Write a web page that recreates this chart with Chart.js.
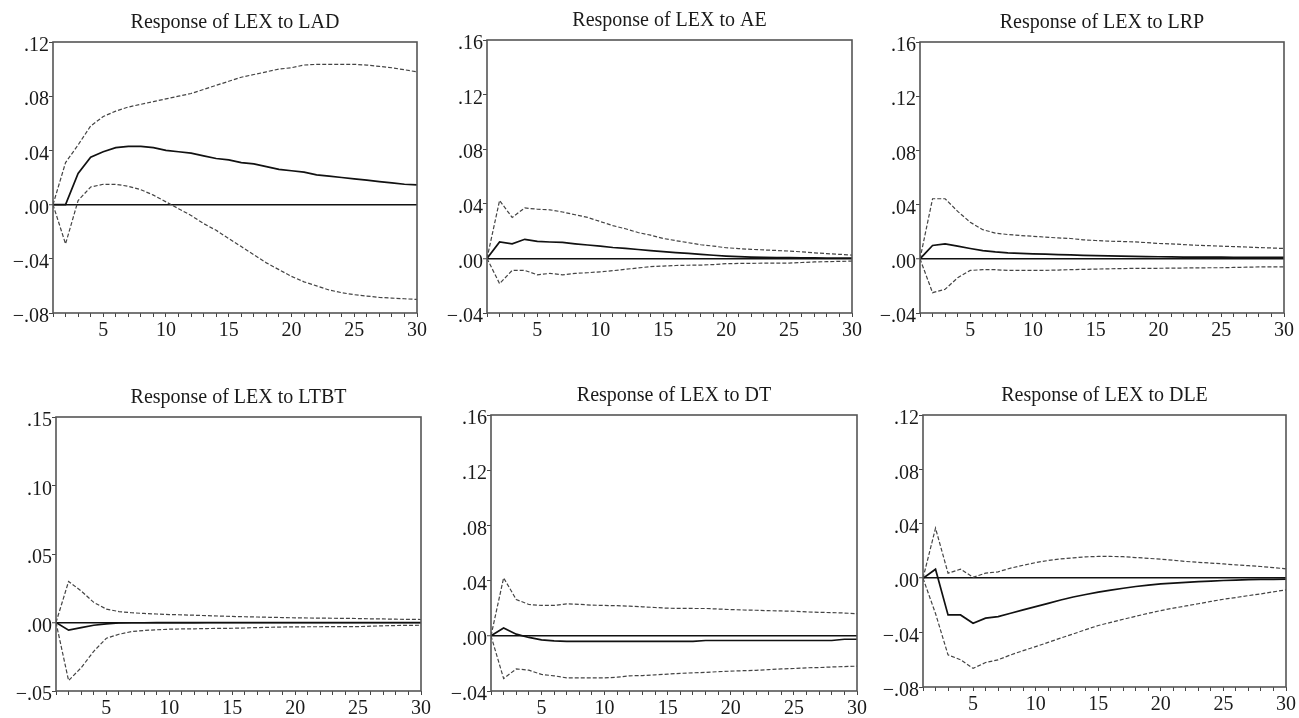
<!DOCTYPE html>
<html>
<head>
<meta charset="utf-8">
<title>Impulse responses of LEX</title>
<script src="https://cdn.jsdelivr.net/npm/chart.js@4.4.1/dist/chart.umd.min.js"></script>
<style>
  html, body { margin: 0; padding: 0; background: #fff; }
  #wrap { position: relative; width: 1299px; height: 718px; overflow: hidden; }
  .panel { position: absolute; }
</style>
</head>
<body>
<div id="wrap"></div>
<script>
// periods 1..30
const periods = [1, 2, 3, 4, 5, 6, 7, 8, 9, 10, 11, 12, 13, 14, 15, 16, 17, 18, 19, 20, 21, 22, 23, 24, 25, 26, 27, 28, 29, 30];

// Response of LEX to LAD
const ladResp  = [0, 0, 0.023, 0.035, 0.039, 0.042, 0.043, 0.043, 0.042, 0.040, 0.039, 0.038, 0.036, 0.034, 0.033, 0.031, 0.030, 0.028, 0.026, 0.025, 0.024, 0.022, 0.021, 0.020, 0.019, 0.018, 0.017, 0.016, 0.015, 0.0145];
const ladUpper = [0, 0.031, 0.044, 0.058, 0.065, 0.069, 0.072, 0.074, 0.076, 0.078, 0.080, 0.082, 0.085, 0.088, 0.091, 0.094, 0.096, 0.098, 0.100, 0.101, 0.103, 0.1035, 0.1035, 0.1035, 0.1035, 0.103, 0.102, 0.101, 0.0995, 0.098];
const ladLower = [0, -0.029, 0.003, 0.013, 0.015, 0.015, 0.0135, 0.011, 0.007, 0.002, -0.003, -0.008, -0.014, -0.019, -0.025, -0.031, -0.037, -0.043, -0.048, -0.053, -0.057, -0.060, -0.063, -0.065, -0.0665, -0.0675, -0.0685, -0.069, -0.0695, -0.070];

// Response of LEX to AE
const aeResp  = [0, 0.012, 0.0107, 0.014, 0.0125, 0.012, 0.0117, 0.0107, 0.0098, 0.009, 0.008, 0.0073, 0.0065, 0.0057, 0.0049, 0.0043, 0.0037, 0.003, 0.0023, 0.0017, 0.0013, 0.001, 0.0008, 0.0006, 0.0005, 0.0004, 0.0004, 0.0003, 0.0003, 0.0003];
const aeUpper = [0, 0.0424, 0.030, 0.037, 0.036, 0.0356, 0.034, 0.032, 0.030, 0.027, 0.024, 0.0217, 0.019, 0.017, 0.0146, 0.013, 0.0115, 0.010, 0.009, 0.0078, 0.0072, 0.0066, 0.0062, 0.0058, 0.0054, 0.0048, 0.0041, 0.0035, 0.003, 0.0024];
const aeLower = [0, -0.0185, -0.0088, -0.0088, -0.012, -0.011, -0.012, -0.011, -0.0105, -0.0098, -0.009, -0.008, -0.007, -0.006, -0.0056, -0.0052, -0.005, -0.0049, -0.0045, -0.0039, -0.0037, -0.0036, -0.0035, -0.0034, -0.0034, -0.003, -0.0026, -0.0024, -0.0022, -0.002];

// Response of LEX to LRP
const lrpResp  = [0, 0.0098, 0.011, 0.0093, 0.0076, 0.0061, 0.0051, 0.0044, 0.004, 0.0037, 0.0034, 0.0031, 0.0029, 0.0026, 0.0024, 0.0022, 0.002, 0.0018, 0.0016, 0.0015, 0.0014, 0.0013, 0.0013, 0.0012, 0.0012, 0.0011, 0.0011, 0.001, 0.001, 0.001];
const lrpUpper = [0, 0.0443, 0.0443, 0.035, 0.027, 0.0215, 0.019, 0.0179, 0.0172, 0.0166, 0.016, 0.0154, 0.015, 0.014, 0.0135, 0.013, 0.0128, 0.0125, 0.012, 0.0113, 0.011, 0.0105, 0.010, 0.0097, 0.0093, 0.009, 0.0087, 0.0083, 0.008, 0.0076];
const lrpLower = [0, -0.025, -0.0225, -0.014, -0.0086, -0.008, -0.008, -0.0086, -0.0086, -0.0086, -0.0085, -0.0083, -0.008, -0.0078, -0.0076, -0.0074, -0.0072, -0.0071, -0.007, -0.007, -0.0069, -0.0068, -0.0067, -0.0066, -0.0066, -0.0064, -0.0062, -0.006, -0.006, -0.0059];

// Response of LEX to LTBT
const ltbtResp  = [0, -0.0056, -0.0037, -0.002, -0.001, -0.0003, -0.0002, -0.0002, -0.0001, -0.0001, -0.0001, -0.0001, 0, 0, 0, 0, 0, 0, 0, 0, 0, 0, 0, 0, 0, 0, 0, 0, 0, 0];
const ltbtUpper = [0, 0.030, 0.023, 0.0147, 0.0098, 0.008, 0.0071, 0.0066, 0.0062, 0.0058, 0.0056, 0.0053, 0.005, 0.0047, 0.0044, 0.0042, 0.004, 0.0038, 0.0036, 0.0034, 0.0033, 0.0032, 0.0031, 0.003, 0.0029, 0.0027, 0.0026, 0.0024, 0.0023, 0.0022];
const ltbtLower = [0, -0.0424, -0.033, -0.021, -0.0115, -0.0086, -0.0066, -0.0058, -0.0053, -0.0049, -0.0047, -0.0046, -0.0044, -0.0043, -0.0042, -0.004, -0.0037, -0.0035, -0.0033, -0.0032, -0.0031, -0.0031, -0.003, -0.003, -0.003, -0.0027, -0.0024, -0.0022, -0.0021, -0.002];

// Response of LEX to DT
const dtResp  = [0, 0.0056, 0.0012, -0.0012, -0.003, -0.0037, -0.0041, -0.0041, -0.0041, -0.0041, -0.0041, -0.0041, -0.0041, -0.0041, -0.0041, -0.0041, -0.0041, -0.0034, -0.0034, -0.0034, -0.0034, -0.0034, -0.0034, -0.0034, -0.0034, -0.0034, -0.0034, -0.0034, -0.0025, -0.0025];
const dtUpper = [0, 0.042, 0.0263, 0.0227, 0.022, 0.022, 0.0232, 0.0228, 0.0222, 0.022, 0.0218, 0.0215, 0.021, 0.0205, 0.020, 0.0199, 0.0198, 0.0198, 0.0194, 0.019, 0.0187, 0.0185, 0.0182, 0.018, 0.0178, 0.0173, 0.017, 0.0168, 0.0165, 0.016];
const dtLower = [0, -0.031, -0.024, -0.0249, -0.028, -0.029, -0.0305, -0.0305, -0.0305, -0.0305, -0.030, -0.029, -0.0288, -0.0283, -0.0278, -0.0272, -0.0268, -0.0265, -0.026, -0.0256, -0.0253, -0.025, -0.0245, -0.024, -0.0237, -0.0232, -0.023, -0.0226, -0.0223, -0.022];

// Response of LEX to DLE
const dleResp  = [0, 0.0066, -0.027, -0.027, -0.0331, -0.0294, -0.0282, -0.0258, -0.0233, -0.0209, -0.0185, -0.016, -0.0138, -0.012, -0.0103, -0.0088, -0.0074, -0.0061, -0.0051, -0.0042, -0.0036, -0.003, -0.0025, -0.0021, -0.0017, -0.0014, -0.0011, -0.0009, -0.0008, -0.0007];
const dleUpper = [0, 0.0368, 0.0037, 0.0066, 0.0007, 0.0037, 0.0047, 0.0074, 0.0095, 0.0115, 0.013, 0.0142, 0.015, 0.0157, 0.016, 0.016, 0.0158, 0.0152, 0.0146, 0.014, 0.0132, 0.0123, 0.0117, 0.0111, 0.0105, 0.0098, 0.0092, 0.0086, 0.0078, 0.0069];
const dleLower = [0, -0.026, -0.0564, -0.060, -0.0663, -0.062, -0.060, -0.0564, -0.0533, -0.0503, -0.0472, -0.044, -0.041, -0.0378, -0.0348, -0.0325, -0.0302, -0.028, -0.0258, -0.0238, -0.022, -0.0204, -0.0188, -0.0171, -0.0155, -0.0142, -0.0128, -0.0115, -0.01, -0.0086];

// y-axis ranges per panel: min, max, step
const yRangeLAD  = [-0.08, 0.12, 0.04];
const yRangeAE   = [-0.04, 0.16, 0.04];
const yRangeLRP  = [-0.04, 0.16, 0.04];
const yRangeLTBT = [-0.05, 0.15, 0.05];
const yRangeDT   = [-0.04, 0.16, 0.04];
const yRangeDLE  = [-0.08, 0.12, 0.04];

const FONT = '"Liberation Serif", "Times New Roman", serif';
const Y_W = 53;      // width reserved for y tick labels
const X_H = 27;      // height reserved for x tick labels
const TITLE_H = 42;
const RIGHT_PAD = 16;

// plot-area rectangles (left, top, right, bottom) in page pixels
const panels = [
    { title: 'Response of LEX to LAD',  resp: ladResp,  upper: ladUpper,  lower: ladLower,  range: yRangeLAD,  area: [53, 42, 417, 313] },
    { title: 'Response of LEX to AE',   resp: aeResp,   upper: aeUpper,   lower: aeLower,   range: yRangeAE,   area: [487, 40, 852, 313] },
    { title: 'Response of LEX to LRP',  resp: lrpResp,  upper: lrpUpper,  lower: lrpLower,  range: yRangeLRP,  area: [920, 42, 1284, 313] },
    { title: 'Response of LEX to LTBT', resp: ltbtResp, upper: ltbtUpper, lower: ltbtLower, range: yRangeLTBT, area: [56, 417, 421, 691] },
    { title: 'Response of LEX to DT',   resp: dtResp,   upper: dtUpper,   lower: dtLower,   range: yRangeDT,   area: [491, 415, 857, 691] },
    { title: 'Response of LEX to DLE',  resp: dleResp,  upper: dleUpper,  lower: dleLower,  range: yRangeDLE,  area: [923, 415, 1286, 687] },
];

function toPoints(values) {
    return periods.map((p, i) => ({ x: p, y: values[i] }));
}

function fmtTick(v) {
    if (Math.abs(v) < 1e-9) return '.00';
    const s = Math.abs(v).toFixed(2).replace(/^0/, '');
    return v < 0 ? '\u2212' + s : s;
}

// closed frame around the plot area
const framePlugin = {
    id: 'frame',
    afterDatasetsDraw(chart) {
        const a = chart.chartArea;
        const ctx = chart.ctx;
        ctx.save();
        ctx.strokeStyle = '#555';
        ctx.lineWidth = 1.6;
        ctx.strokeRect(a.left, a.top, a.right - a.left, a.bottom - a.top);
        ctx.restore();
    },
};

function bandStyle(label, values) {
    return {
        label,
        data: toPoints(values),
        borderColor: '#444',
        borderWidth: 1.2,
        borderDash: [4, 2],
        pointRadius: 0,
        tension: 0,
        fill: false,
    };
}

function makePanel(cfg) {
    const [l, t, r, b] = cfg.area;
    const box = document.createElement('div');
    box.className = 'panel';
    box.style.left = (l - Y_W) + 'px';
    box.style.top = (t - TITLE_H) + 'px';
    box.style.width = (r - l + Y_W + RIGHT_PAD) + 'px';
    box.style.height = (b - t + TITLE_H + X_H) + 'px';
    const canvas = document.createElement('canvas');
    box.appendChild(canvas);
    document.getElementById('wrap').appendChild(box);

    const [yMin, yMax, yStep] = cfg.range;

    new Chart(canvas, {
        type: 'line',
        data: {
            datasets: [
                {
                    label: 'Response',
                    data: toPoints(cfg.resp),
                    borderColor: '#111',
                    borderWidth: 1.7,
                    pointRadius: 0,
                    tension: 0,
                    fill: false,
                },
                bandStyle('+2 S.E.', cfg.upper),
                bandStyle('-2 S.E.', cfg.lower),
            ],
        },
        options: {
            responsive: true,
            maintainAspectRatio: false,
            animation: false,
            devicePixelRatio: 1,
            layout: { padding: { left: 0, right: RIGHT_PAD, top: 0, bottom: 0 } },
            plugins: {
                legend: { display: false },
                tooltip: { enabled: false },
                title: {
                    display: true,
                    text: cfg.title,
                    fullSize: false,
                    color: '#1a1a1a',
                    font: { family: FONT, size: 20, weight: 'normal', lineHeight: 1.2 },
                    padding: { top: 11, bottom: 7 },
                },
            },
            scales: {
                x: {
                    type: 'linear',
                    min: 1,
                    max: 30,
                    afterFit(scale) { scale.height = X_H; },
                    border: { display: false },
                    grid: { display: true, drawOnChartArea: false, drawTicks: true, tickLength: 4, tickColor: '#444', tickWidth: 1 },
                    ticks: {
                        stepSize: 1,
                        autoSkip: false,
                        maxRotation: 0,
                        padding: 2,
                        color: '#1a1a1a',
                        font: { family: FONT, size: 20 },
                        callback: (v) => (v % 5 === 0 ? String(v) : ''),
                    },
                },
                y: {
                    min: yMin,
                    max: yMax,
                    afterFit(scale) { scale.width = Y_W; },
                    border: { display: false },
                    grid: {
                        drawOnChartArea: true,
                        drawTicks: true,
                        tickLength: 4,
                        tickColor: '#444',
                        tickWidth: 1,
                        color: (ctx) => (ctx.tick && Math.abs(ctx.tick.value) < 1e-9 ? '#111' : 'rgba(0,0,0,0)'),
                        lineWidth: (ctx) => (ctx.tick && Math.abs(ctx.tick.value) < 1e-9 ? 1.5 : 1),
                    },
                    ticks: {
                        stepSize: yStep,
                        padding: 0,
                        labelOffset: 4,
                        color: '#1a1a1a',
                        font: { family: FONT, size: 20 },
                        callback: (v) => fmtTick(v),
                    },
                },
            },
        },
        plugins: [framePlugin],
    });
}

panels.forEach(makePanel);
</script>
</body>
</html>
